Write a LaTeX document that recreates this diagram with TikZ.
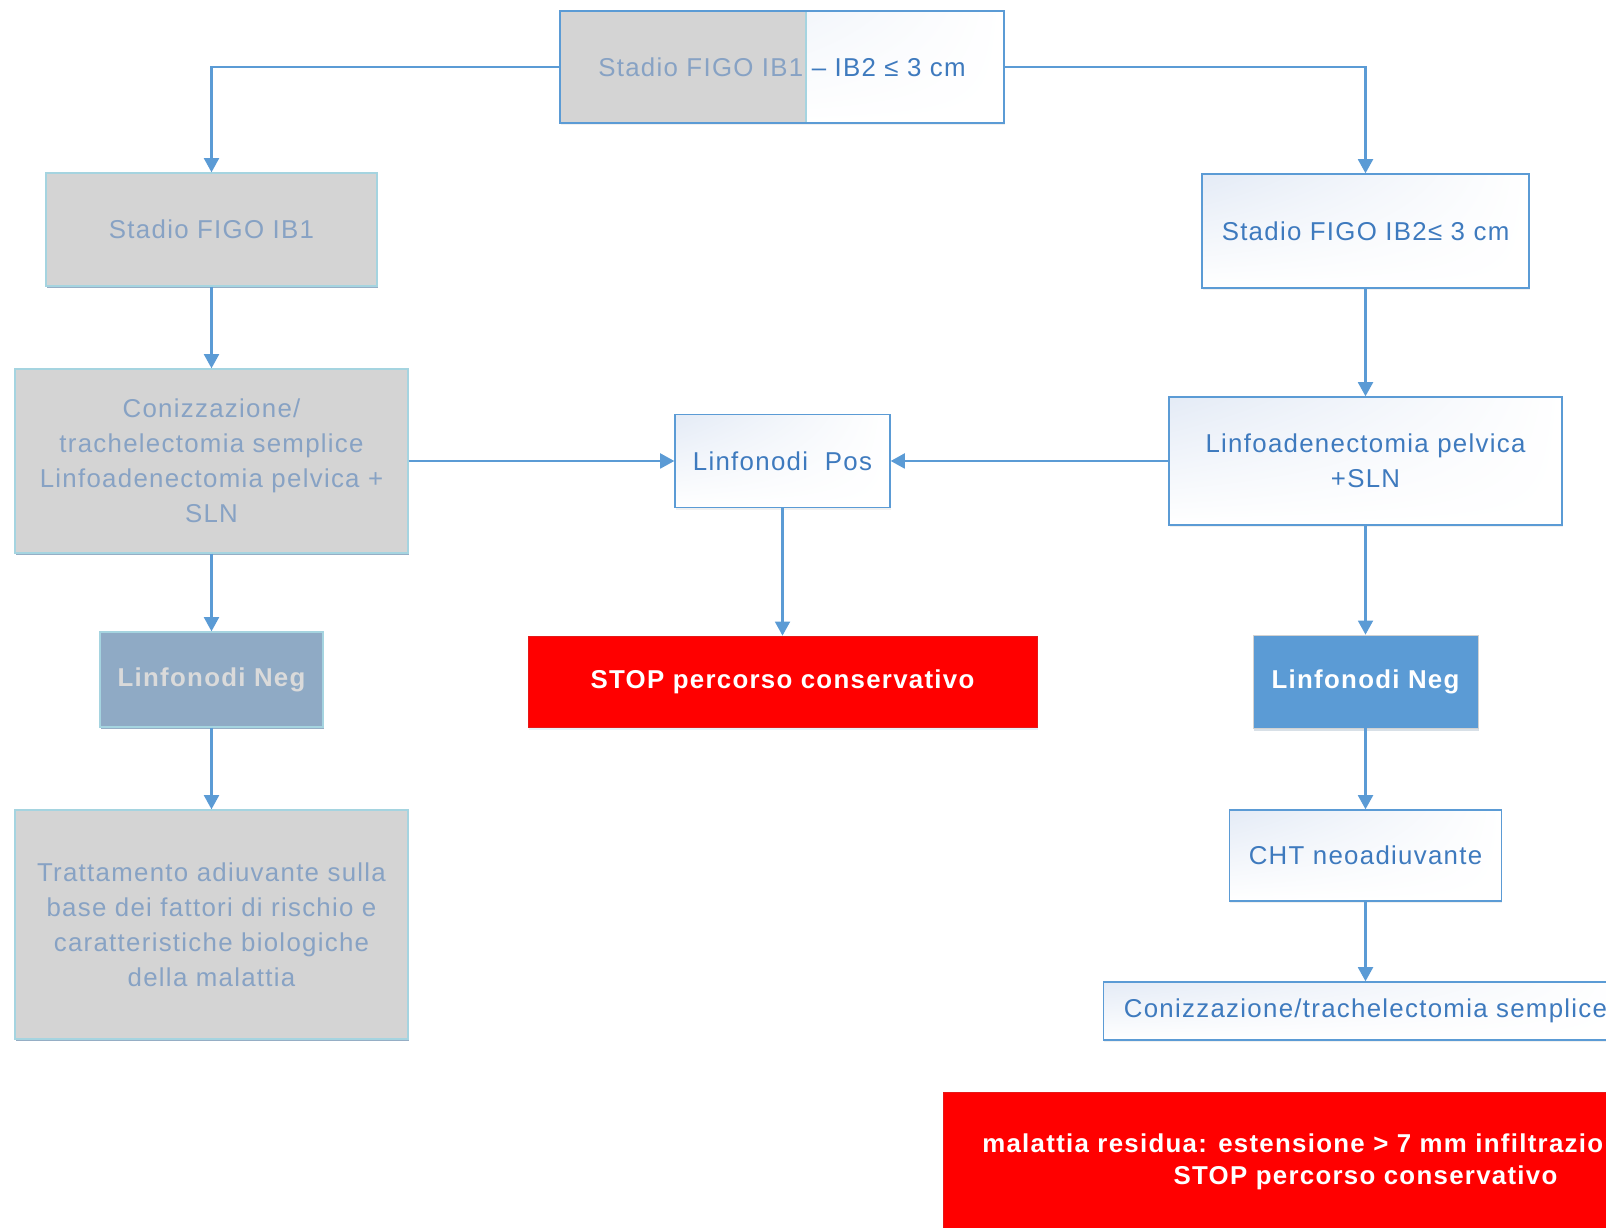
\documentclass[tikz,border=0pt]{standalone}
\usepackage{fontspec}
\setmainfont{Liberation Sans}[LetterSpace=5]
\usepackage{xcolor}
\usetikzlibrary{positioning,arrows.meta,shadows,shadings}
\definecolor{linecolor}{RGB}{91,155,213}
\definecolor{txtcolor}{RGB}{62,122,190}
\definecolor{fadecolor}{RGB}{135,162,196}
\definecolor{graycolor}{RGB}{212,212,212}
\definecolor{rimcolor}{RGB}{165,212,224}
\definecolor{negcolor}{RGB}{143,170,197}
\definecolor{negtxtcolor}{RGB}{218,218,218}
\definecolor{tintcolor}{RGB}{228,235,246}

\begin{document}
\begin{tikzpicture}[font=\fontsize{14.7}{20}\selectfont,
  arr/.style={-{Triangle[length=8pt,width=8.5pt]},line width=1.2pt,draw=linecolor},
  box/.style={draw=linecolor,line width=0.8pt,upper left=tintcolor,upper right=white,lower left=white,lower right=white,
    text=txtcolor,align=center,inner sep=2pt,drop shadow={opacity=0.12,shadow xshift=0.5pt,shadow yshift=-1.2pt}},
  greybox/.style={draw=rimcolor,line width=0.8pt,fill=graycolor,text=fadecolor,align=center,inner sep=2pt,
    drop shadow={fill=linecolor!70!black,opacity=0.55,shadow xshift=0.3pt,shadow yshift=-0.9pt}},
  stopbox/.style={fill=red,draw=red!80!gray,line width=0.4pt,text=white,font=\fontsize{14.7}{20}\selectfont\bfseries,
    drop shadow={fill=linecolor!40,opacity=0.35,shadow xshift=0.5pt,shadow yshift=-1.5pt}}]
\useasboundingbox (0,0) rectangle (32.12,24.56);

% top of the tree: common stage box, left half greyed out
\node[box,minimum width=8.88cm,minimum height=2.24cm,
  path picture={\fill[graycolor] (path picture bounding box.south west) rectangle ([xshift=4.92cm]path picture bounding box.north west);
    \draw[rimcolor,line width=1pt] (path picture bounding box.south west) rectangle ([xshift=4.92cm]path picture bounding box.north west);}]
  (top) at (15.64,23.22) {{\color{fadecolor}Stadio FIGO IB1} – IB2 ≤ 3 cm};

% left branch (IB1)
\node[greybox,minimum width=6.62cm,minimum height=2.26cm] (ib1) at (4.23,19.97) {Stadio FIGO IB1};
\node[greybox,minimum width=7.86cm,minimum height=3.68cm] (con) at (4.23,15.34)
  {Conizzazione/\\trachelectomia semplice\\Linfoadenectomia pelvica +\\SLN};
\node[greybox,fill=negcolor,text=negtxtcolor,font=\fontsize{14.7}{20}\selectfont\bfseries,
  minimum width=4.46cm,minimum height=1.90cm] (negl) at (4.23,10.97) {Linfonodi Neg};
\node[greybox,minimum width=7.86cm,minimum height=4.58cm] (adj) at (4.23,6.07)
  {Trattamento adiuvante sulla\\base dei fattori di rischio e\\caratteristiche biologiche\\della malattia};

% middle
\node[box,minimum width=4.30cm,minimum height=1.86cm] (pos) at (15.65,15.34) {Linfonodi\ \ Pos};
\node[stopbox,minimum width=10.18cm,minimum height=1.82cm] (stop) at (15.65,10.93) {STOP percorso conservativo};

% right branch (IB2)
\node[box,minimum width=6.54cm,minimum height=2.28cm] (ib2) at (27.31,19.94) {Stadio FIGO IB2≤ 3 cm};
\node[box,minimum width=7.86cm,minimum height=2.56cm] (lin) at (27.31,15.34) {Linfoadenectomia pelvica\\+SLN};
\node[stopbox,fill=linecolor,draw=gray!35,minimum width=4.50cm,minimum height=1.86cm,
  drop shadow={opacity=0.15,shadow xshift=0.5pt,shadow yshift=-1.5pt}] (negr) at (27.31,10.93) {Linfonodi Neg};
\node[box,minimum width=5.44cm,minimum height=1.82cm] (cht) at (27.31,7.45) {CHT neoadiuvante};
\node[box,minimum width=10.48cm,minimum height=1.16cm] (coniz) at (27.31,4.34) {Conizzazione/trachelectomia semplice};
\node[stopbox,minimum width=16.88cm,minimum height=3.0cm] (resbox) at (27.30,1.22) {};
\node[text=white,anchor=west,inner sep=0pt,font=\fontsize{14.7}{20}\selectfont\bfseries] (resmsg) at (19.64,1.70)
  {malattia residua: estensione > 7 mm infiltrazione};
\node[text=white,inner sep=0pt,font=\fontsize{14.7}{20}\selectfont\bfseries] (resstop) at (27.31,1.00)
  {STOP percorso conservativo};

% connectors
\draw[arr] (top.west) -| (ib1.north);
\draw[arr] (top.east) -| (ib2.north);
\draw[arr] (ib1) -- (con);
\draw[arr] (con) -- (negl);
\draw[arr] (negl) -- (adj);
\draw[arr] (con) -- (pos);
\draw[arr] (lin) -- (pos);
\draw[arr] (pos) -- (stop);
\draw[arr] (ib2) -- (lin);
\draw[arr] (lin) -- (negr);
\draw[arr] (negr) -- (cht);
\draw[arr] (cht) -- (coniz);
\end{tikzpicture}
\end{document}
